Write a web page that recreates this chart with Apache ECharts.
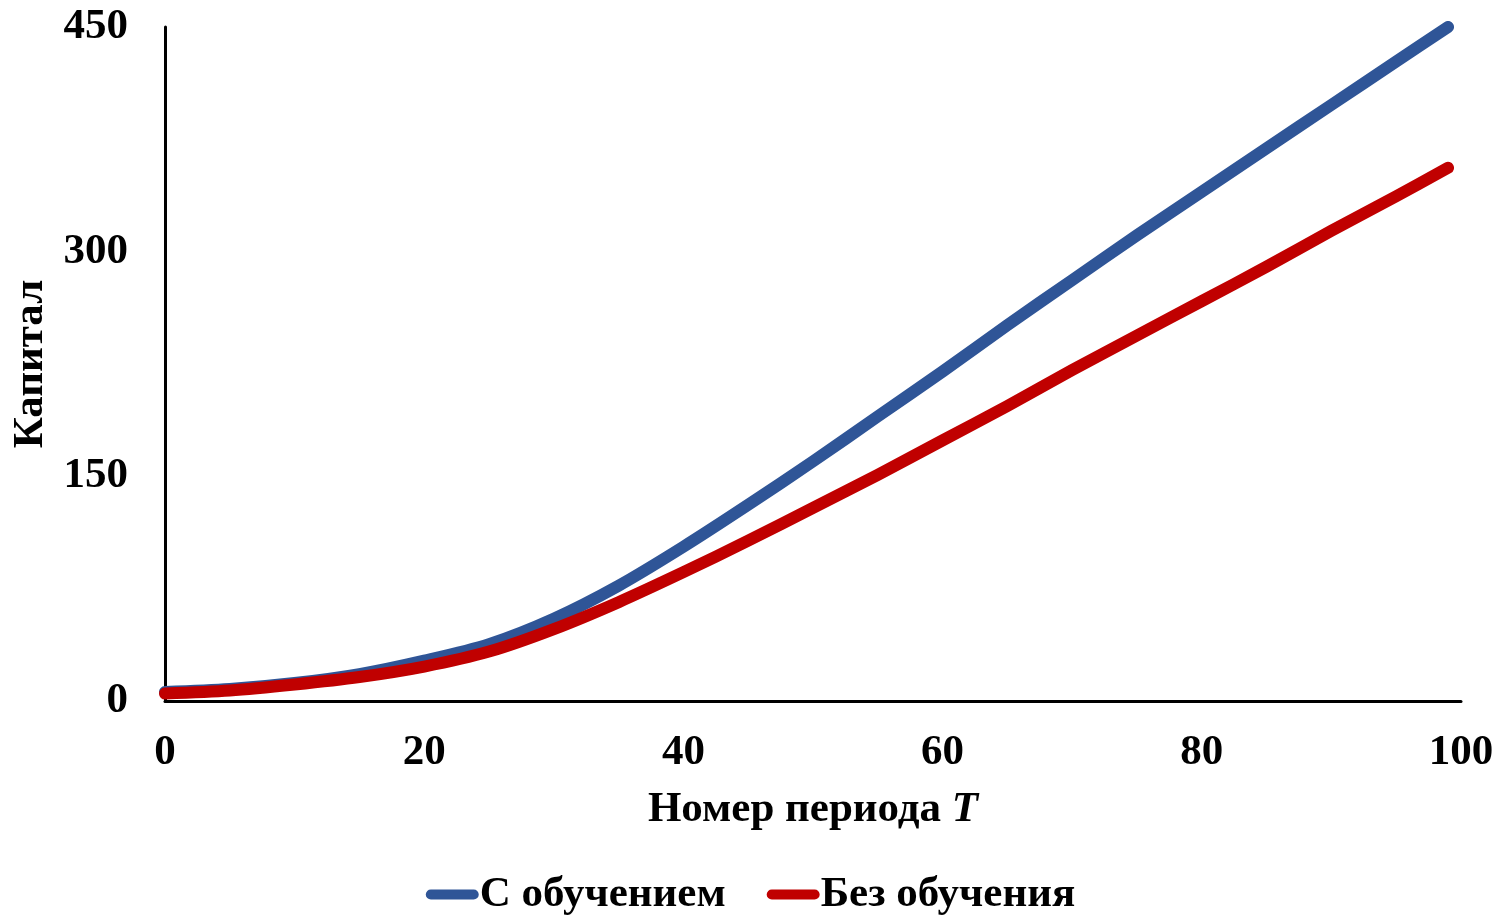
<!DOCTYPE html>
<html>
<head>
<meta charset="utf-8">
<script src="https://cdn.jsdelivr.net/npm/echarts@6/dist/echarts.min.js"></script>
<style>
  html, body { margin: 0; padding: 0; background: #fff; }
  #chart { width: 1501px; height: 915px; }
</style>
</head>
<body>
<div id="chart"></div>
<script>
// Period numbers T
const periods = [0, 5, 10, 15, 20, 25, 30, 35, 40, 45, 50, 55, 60, 65, 70, 75, 80, 85, 90, 95, 99];
// Capital with learning
const withLearning = [6, 8, 12, 18, 27, 38, 55, 77, 103, 131, 160, 190, 220, 251, 281, 311, 340, 369, 398, 427, 450];
// Capital without learning
const withoutLearning = [5, 7, 11, 16, 23, 33, 48, 66, 86, 107, 129, 151, 174, 197, 221, 244, 267, 290, 314, 337, 356];

const seriesNames = ['С обучением', 'Без обучения'];
const seriesColors = ['#2F5597', '#C00000'];
const xTicks = [0, 20, 40, 60, 80, 100];
const yTicks = [0, 150, 300, 450];

const FONT = '"Liberation Serif", "Times New Roman", serif';
const FS = 43;

function pairs(xs, ys) {
  return xs.map((x, i) => [x, ys[i]]);
}

const chart = echarts.init(document.getElementById('chart'), null, { renderer: 'canvas' });

// rounded bar used as the legend marker
const capsule = 'path://M5,0 H47 A5,5 0 0 1 47,10 H5 A5,5 0 0 1 5,0 Z';

function lineSeries(name, color, values, z) {
  return {
    name: name,
    type: 'line',
    data: pairs(periods, values),
    smooth: 0.3,
    showSymbol: false,
    symbol: 'none',
    color: color,
    lineStyle: { color: color, width: 12, cap: 'round', join: 'round' },
    z: z
  };
}

chart.setOption({
  animation: false,
  backgroundColor: '#ffffff',
  grid: { left: 165, right: 40, top: 27, bottom: 214, containLabel: false, outerBoundsMode: 'none' },
  legend: {
    top: 868,
    left: 'center',
    itemWidth: 53,
    itemHeight: 12,
    itemGap: 41,
    icon: capsule,
    textStyle: { fontFamily: FONT, fontWeight: 'bold', fontSize: FS, color: '#000', padding: [0, 0, 0, -4] },
    data: seriesNames
  },
  xAxis: {
    type: 'value',
    min: xTicks[0],
    max: xTicks[xTicks.length - 1],
    interval: xTicks[1] - xTicks[0],
    name: 'Номер периода {i|T}',
    nameLocation: 'middle',
    nameGap: 87,
    nameTextStyle: {
      fontFamily: FONT, fontWeight: 'bold', fontSize: FS, color: '#000',
      rich: { i: { fontFamily: FONT, fontWeight: 'bold', fontStyle: 'italic', fontSize: FS, color: '#000' } }
    },
    axisLine: { show: true, lineStyle: { color: '#000', width: 3 } },
    axisTick: { show: false },
    splitLine: { show: false },
    axisLabel: { fontFamily: FONT, fontWeight: 'bold', fontSize: FS, color: '#000', margin: 30 }
  },
  yAxis: {
    type: 'value',
    min: yTicks[0],
    max: yTicks[yTicks.length - 1],
    interval: yTicks[1] - yTicks[0],
    name: 'Капитал',
    nameLocation: 'middle',
    nameGap: 108,
    nameRotate: 90,
    nameTextStyle: { fontFamily: FONT, fontWeight: 'bold', fontSize: FS, color: '#000' },
    axisLine: { show: true, lineStyle: { color: '#000', width: 3 } },
    axisTick: { show: false },
    splitLine: { show: false },
    axisLabel: { fontFamily: FONT, fontWeight: 'bold', fontSize: FS, color: '#000', margin: 37 }
  },
  series: [
    lineSeries(seriesNames[0], seriesColors[0], withLearning, 2),
    lineSeries(seriesNames[1], seriesColors[1], withoutLearning, 3)
  ]
});
</script>
</body>
</html>
